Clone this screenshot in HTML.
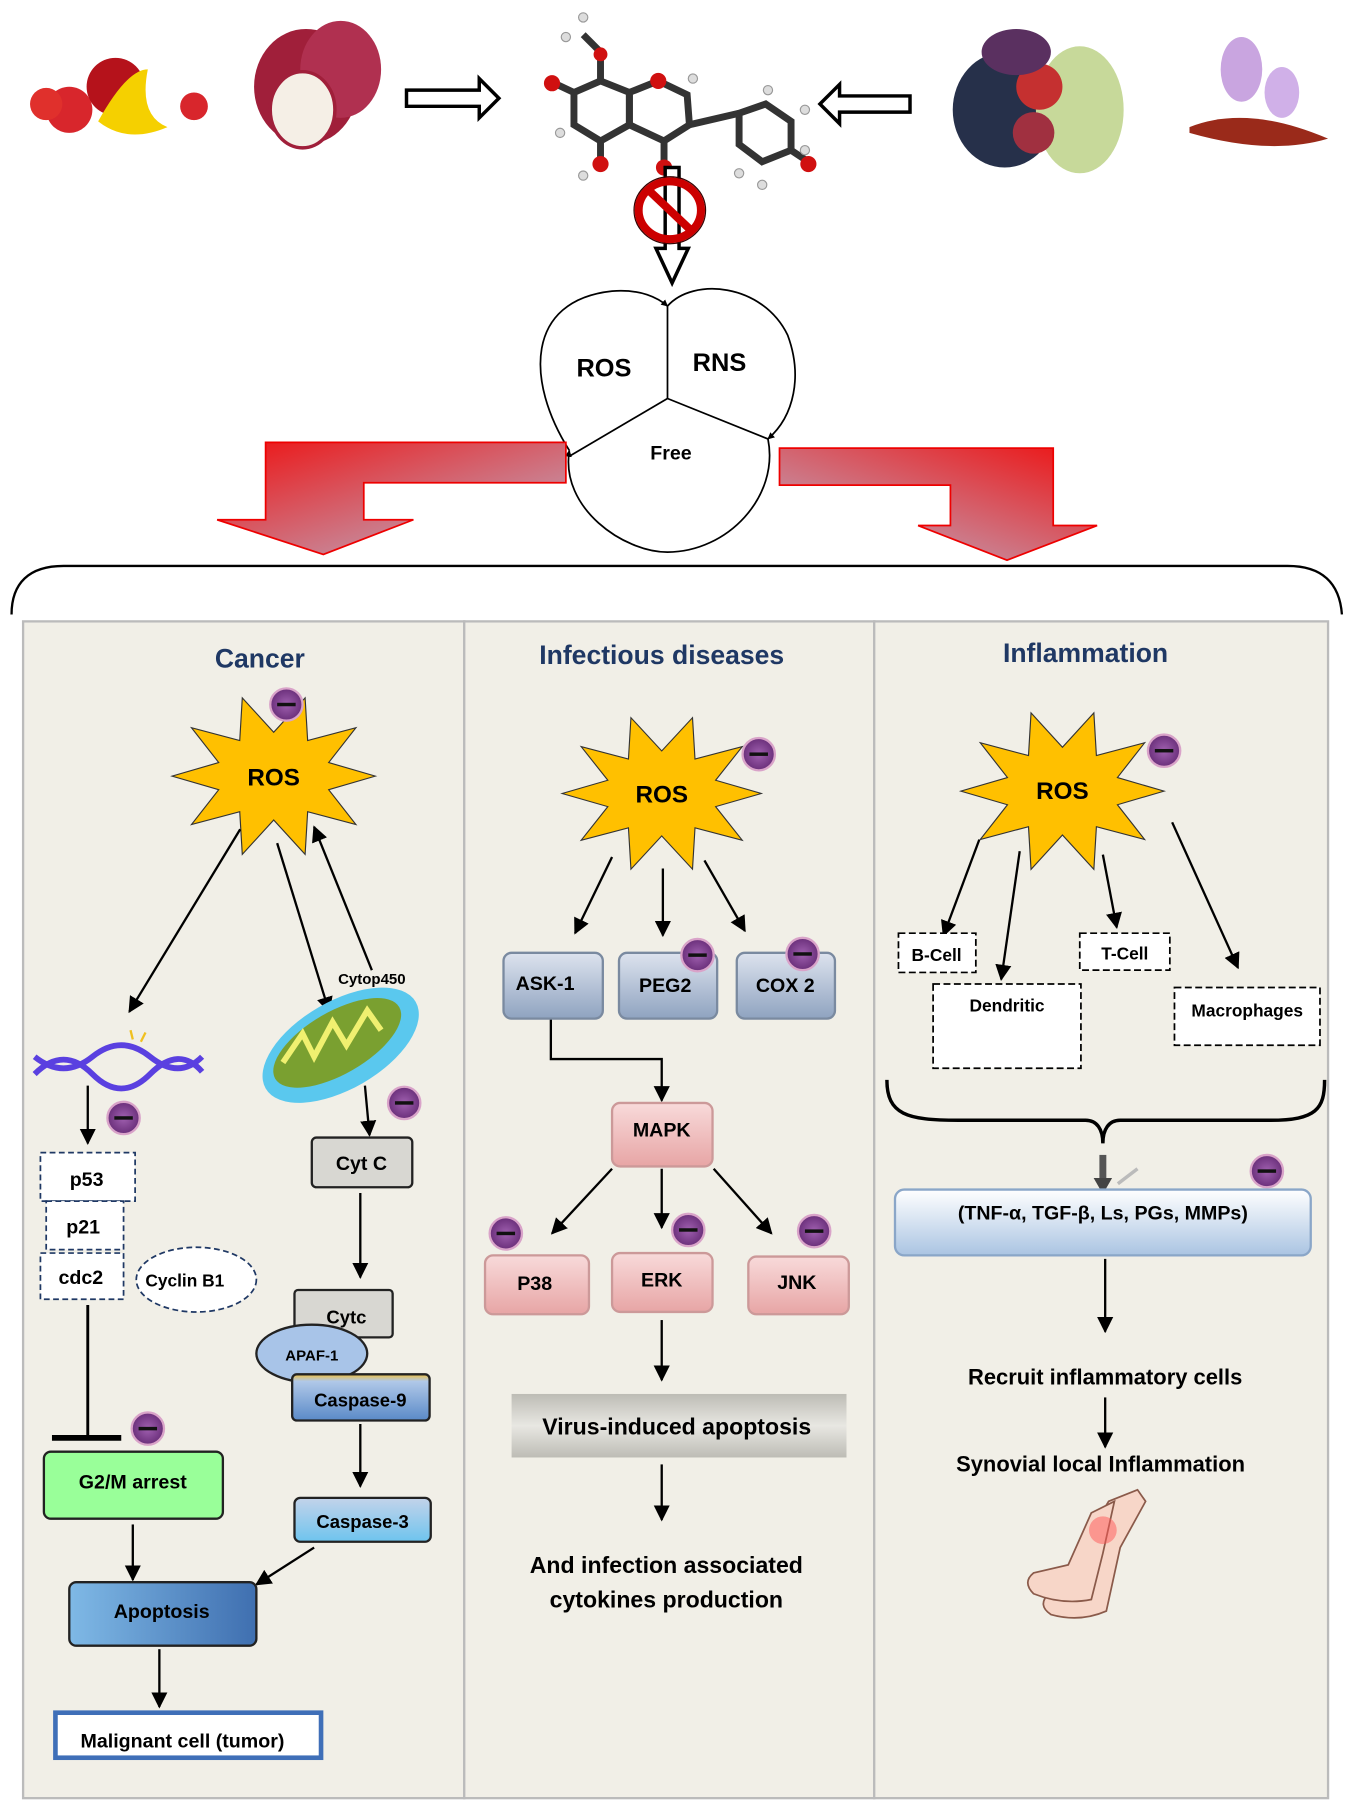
<!DOCTYPE html>
<html><head><meta charset="utf-8"><style>
html,body{margin:0;padding:0;background:#fff}
svg{display:block}
text{font-family:"Liberation Sans",sans-serif;font-weight:bold}
</style></head><body>
<svg width="1350" height="1804" viewBox="0 0 1169 1562" xmlns="http://www.w3.org/2000/svg">
<defs>
<marker id="ar" viewBox="0 0 10 10" refX="9" refY="5" markerWidth="7" markerHeight="7" orient="auto"><path d="M0,0 L10,5 L0,10 Z" fill="#000"/></marker>
<marker id="ars" viewBox="0 0 10 10" refX="9" refY="5" markerWidth="4" markerHeight="4" orient="auto"><path d="M0,0 L10,5 L0,10 Z" fill="#000"/></marker>
<linearGradient id="red" x1="0" y1="0" x2="1" y2="1"><stop offset="0" stop-color="#ee1111"/><stop offset="1" stop-color="#b8b8d0"/></linearGradient>
<linearGradient id="red2" x1="1" y1="0" x2="0" y2="1"><stop offset="0" stop-color="#ee1111"/><stop offset="1" stop-color="#b8b8d0"/></linearGradient>
<linearGradient id="gb" x1="0" y1="0" x2="0" y2="1"><stop offset="0" stop-color="#dde3ee"/><stop offset="1" stop-color="#8fa3c0"/></linearGradient>
<linearGradient id="pk" x1="0" y1="0" x2="0" y2="1"><stop offset="0" stop-color="#f8dada"/><stop offset="1" stop-color="#e7a5a5"/></linearGradient>
<linearGradient id="gr" x1="0" y1="0" x2="0" y2="1"><stop offset="0" stop-color="#bdbcb5"/><stop offset=".5" stop-color="#e8e7e2"/><stop offset="1" stop-color="#bdbcb5"/></linearGradient>
<linearGradient id="lb" x1="0" y1="0" x2="0" y2="1"><stop offset="0" stop-color="#ffffff"/><stop offset="1" stop-color="#aac4e2"/></linearGradient>
<linearGradient id="ap" x1="0" y1="0" x2="1" y2="0"><stop offset="0" stop-color="#7fb9e6"/><stop offset="1" stop-color="#3f6fb0"/></linearGradient>
<linearGradient id="c3" x1="0" y1="0" x2="0" y2="1"><stop offset="0" stop-color="#c3d3ea"/><stop offset="1" stop-color="#6ec4ee"/></linearGradient>
<linearGradient id="c9" x1="0" y1="0" x2="0" y2="1"><stop offset="0" stop-color="#f0c040"/><stop offset=".15" stop-color="#b0c8e8"/><stop offset="1" stop-color="#5a8ac8"/></linearGradient>
<radialGradient id="mb"><stop offset="0" stop-color="#a060b0"/><stop offset="1" stop-color="#6a2f7a"/></radialGradient>
<g id="minus"><circle r="14" fill="url(#mb)" stroke="#d9a3c9" stroke-width="2"/><rect x="-8" y="-1.5" width="16" height="3" fill="#111"/></g>
<polygon id="star" points="88,0 47.6,12.4 71.2,44.1 29.4,32.4 27.2,71.3 0,40 -27.2,71.3 -29.4,32.4 -71.2,44.1 -47.6,12.4 -88,0 -47.6,-12.4 -71.2,-44.1 -29.4,-32.4 -27.2,-71.3 0,-40 27.2,-71.3 29.4,-32.4 71.2,-44.1 47.6,-12.4" fill="#ffc000" stroke="#333" stroke-width="1"/>
</defs>

<g>
<circle cx="60" cy="95" r="20" fill="#d8262c"/><circle cx="100" cy="75" r="25" fill="#b5121b"/><path d="M85,105 Q110,60 128,60 Q120,100 145,110 Q110,125 85,105Z" fill="#f5d000"/><circle cx="40" cy="90" r="14" fill="#e0302c"/><circle cx="168" cy="92" r="12" fill="#d8262c"/>
<ellipse cx="265" cy="75" rx="45" ry="50" fill="#a01f3a"/><ellipse cx="295" cy="60" rx="35" ry="42" fill="#b03050"/><ellipse cx="262" cy="95" rx="28" ry="33" fill="#f5efe6" stroke="#a01f3a" stroke-width="3"/>
<path d="M352,78 H415 V68 L432,85 L415,102 V92 H352 Z" fill="#fff" stroke="#000" stroke-width="3"/>
<g stroke="#333" stroke-width="6" fill="none"><polygon points="520,70 545,80 545,108 520,122 497,108 497,80"/><polygon points="545,80 570,70 595,82 597,108 575,122 545,108"/><polygon points="640,98 663,90 685,105 685,130 660,140 640,125"/><line x1="597" y1="108" x2="640" y2="98"/><line x1="520" y1="70" x2="520" y2="45"/><line x1="520" y1="45" x2="505" y2="30"/><line x1="497" y1="80" x2="480" y2="72"/><line x1="520" y1="122" x2="520" y2="140"/><line x1="575" y1="122" x2="575" y2="140"/><line x1="685" y1="130" x2="700" y2="140"/></g>
<g fill="#d01010"><circle cx="520" cy="47" r="6"/><circle cx="570" cy="70" r="7"/><circle cx="478" cy="72" r="7"/><circle cx="520" cy="142" r="7"/><circle cx="575" cy="145" r="7"/><circle cx="700" cy="142" r="7"/></g>
<g fill="#ddd" stroke="#999"><circle cx="505" cy="15" r="4"/><circle cx="490" cy="32" r="4"/><circle cx="697" cy="130" r="4"/><circle cx="660" cy="160" r="4"/><circle cx="640" cy="150" r="4"/><circle cx="665" cy="78" r="4"/><circle cx="697" cy="95" r="4"/><circle cx="600" cy="68" r="4"/><circle cx="485" cy="115" r="4"/><circle cx="505" cy="152" r="4"/></g>
<path d="M788,83 H727 V73 L710,90 L727,107 V97 H788 Z" fill="#fff" stroke="#000" stroke-width="3"/>
<ellipse cx="870" cy="95" rx="45" ry="50" fill="#26304a"/><ellipse cx="935" cy="95" rx="38" ry="55" fill="#c7d99a"/><circle cx="900" cy="75" r="20" fill="#c53030"/><circle cx="895" cy="115" r="18" fill="#a03040"/><ellipse cx="880" cy="45" rx="30" ry="20" fill="#5a3060"/>
<path d="M1030,110 Q1080,90 1150,120 Q1100,135 1030,115Z" fill="#9a2a1a"/><ellipse cx="1075" cy="60" rx="18" ry="28" fill="#c9a5e0"/><ellipse cx="1110" cy="80" rx="15" ry="22" fill="#d0b0e8"/>
</g>
<path d="M576,145 H588 V215 H596 L582,245 L568,215 H576 Z" fill="#fff" stroke="#000" stroke-width="3"/>
<ellipse cx="580" cy="182" rx="27" ry="25" fill="none" stroke="#c00" stroke-width="7"/>
<line x1="562" y1="165" x2="598" y2="199" stroke="#c00" stroke-width="7"/>
<ellipse cx="580" cy="182" rx="31" ry="29" fill="none" stroke="#300" stroke-width="1"/>

<g fill="none" stroke="#000" stroke-width="1.5">
<path d="M493,390 C455,330 455,260 530,252 C555,250 570,258 578,265" marker-end="url(#ars)"/>
<path d="M578,265 C600,240 660,245 682,290 C695,325 688,360 665,380" marker-end="url(#ars)"/>
<path d="M665,380 C675,430 630,478 578,478 C540,478 485,440 493,390" marker-end="url(#ars)"/>
<line x1="578" y1="265" x2="578" y2="345"/><line x1="578" y1="345" x2="493" y2="395"/><line x1="578" y1="345" x2="665" y2="380"/>
</g>
<text x="523" y="326" font-size="22" text-anchor="middle">ROS</text>
<text x="623" y="321" font-size="22" text-anchor="middle">RNS</text>
<text x="581" y="398" font-size="17" text-anchor="middle">Free</text>

<path d="M490,383 H230 V450 H188 L280,480 L358,450 H315 V418 H490 Z" fill="url(#red)" stroke="#e00" stroke-width="1.5"/>
<path d="M675,388 H912 V455 H950 L872,485 L795,455 H823 V420 H675 Z" fill="url(#red2)" stroke="#e00" stroke-width="1.5"/>

<path d="M10,532 C10,505 25,490 55,490 H1115 C1145,490 1160,505 1162,532" fill="none" stroke="#000" stroke-width="2"/>

<rect x="20" y="538" width="382" height="1019" fill="#f1efe7" stroke="#bbb" stroke-width="2"/>
<rect x="402" y="538" width="355" height="1019" fill="#f1efe7" stroke="#bbb" stroke-width="2"/>
<rect x="757" y="538" width="393" height="1019" fill="#f1efe7" stroke="#bbb" stroke-width="2"/>

<g font-size="23" text-anchor="middle">
<text x="225" y="578" fill="#1f3864">Cancer</text>
<text x="573" y="575" fill="#1f3864">Infectious diseases</text>
<text x="940" y="573" fill="#1f3864">Inflammation</text>
</g>

<use href="#star" transform="translate(237,672) scale(1,0.95)"/>
<text x="237" y="680" font-size="21" text-anchor="middle">ROS</text>
<use href="#minus" x="248" y="610"/>
<g stroke="#000" stroke-width="2" fill="none" marker-end="url(#ar)">
<line x1="208" y1="718" x2="112" y2="876"/>
<line x1="240" y1="730" x2="285" y2="876"/>
<line x1="322" y1="840" x2="272" y2="716"/>
<line x1="76" y1="940" x2="76" y2="990"/>
<line x1="316" y1="940" x2="320" y2="983"/>
<line x1="312" y1="1033" x2="312" y2="1106"/>
<line x1="312" y1="1233" x2="312" y2="1287"/>
<line x1="272" y1="1340" x2="222" y2="1372"/>
<line x1="115" y1="1320" x2="115" y2="1368"/>
<line x1="138" y1="1428" x2="138" y2="1478"/>
</g>
<text x="322" y="852" font-size="13" text-anchor="middle" font-weight="normal">Cytop450</text>
<ellipse cx="295" cy="905" rx="75" ry="38" transform="rotate(-30 295 905)" fill="#5ac8ee"/>
<ellipse cx="292" cy="903" rx="62" ry="27" transform="rotate(-30 292 903)" fill="#7aa030"/>
<path d="M245,920 L262,895 L272,915 L288,885 L300,905 L318,875 L330,892" stroke="#f0f070" stroke-width="5" fill="none"/>
<path d="M30,915 Q55,935 80,915 T130,915 T175,915" stroke="#5a40e0" stroke-width="5" fill="none"/>
<path d="M30,930 Q55,905 80,930 T130,930 T175,928" stroke="#5a40e0" stroke-width="5" fill="none"/>
<g stroke="#f0c020" stroke-width="2"><line x1="115" y1="900" x2="113" y2="892"/><line x1="122" y1="902" x2="126" y2="894"/></g>
<use href="#minus" x="107" y="968"/>
<g fill="#fff" stroke="#1f3864" stroke-width="1.5" stroke-dasharray="5,3">
<rect x="35" y="998" width="82" height="42"/>
<rect x="40" y="1040" width="67" height="42"/>
<rect x="35" y="1085" width="72" height="40"/>
<ellipse cx="170" cy="1108" rx="52" ry="28"/>
</g>
<g font-size="17" text-anchor="middle"><text x="75" y="1027">p53</text><text x="72" y="1068">p21</text><text x="70" y="1112">cdc2</text></g>
<text x="160" y="1114" font-size="15" text-anchor="middle" font-weight="normal">Cyclin B1</text>
<rect x="270" y="985" width="87" height="43" rx="4" fill="#d8d7d2" stroke="#222" stroke-width="2"/>
<text x="313" y="1013" font-size="17" text-anchor="middle">Cyt C</text>
<use href="#minus" x="350" y="955"/>
<rect x="255" y="1117" width="85" height="41" rx="3" fill="#d8d7d2" stroke="#222" stroke-width="2"/>
<text x="300" y="1146" font-size="16" text-anchor="middle">Cytc</text>
<ellipse cx="270" cy="1172" rx="48" ry="25" fill="#a8c4e8" stroke="#222" stroke-width="2"/>
<text x="270" y="1178" font-size="13" text-anchor="middle" font-weight="normal">APAF-1</text>
<rect x="253" y="1190" width="119" height="40" rx="4" fill="url(#c9)" stroke="#222" stroke-width="2"/>
<text x="312" y="1218" font-size="16" text-anchor="middle">Caspase-9</text>
<rect x="255" y="1297" width="118" height="38" rx="5" fill="url(#c3)" stroke="#222" stroke-width="2"/>
<text x="314" y="1323" font-size="16" text-anchor="middle">Caspase-3</text>
<line x1="76" y1="1130" x2="76" y2="1245" stroke="#000" stroke-width="2.5"/>
<line x1="45" y1="1245" x2="105" y2="1245" stroke="#000" stroke-width="5"/>
<use href="#minus" x="128" y="1237"/>
<rect x="38" y="1257" width="155" height="58" rx="6" fill="#99ff99" stroke="#222" stroke-width="2"/>
<text x="115" y="1289" font-size="17" text-anchor="middle">G2/M arrest</text>
<rect x="60" y="1370" width="162" height="55" rx="6" fill="url(#ap)" stroke="#222" stroke-width="2"/>
<text x="140" y="1401" font-size="17" text-anchor="middle">Apoptosis</text>
<rect x="48" y="1483" width="230" height="39" fill="#fff" stroke="#3f6fb8" stroke-width="4"/>
<text x="158" y="1513" font-size="17" text-anchor="middle">Malignant cell (tumor)</text>

<use href="#star" transform="translate(573,687) scale(0.98,0.92)"/>
<text x="573" y="695" font-size="21" text-anchor="middle">ROS</text>
<use href="#minus" x="657" y="653"/>
<g stroke="#000" stroke-width="2" fill="none" marker-end="url(#ar)">
<line x1="530" y1="742" x2="498" y2="808"/>
<line x1="574" y1="752" x2="574" y2="810"/>
<line x1="610" y1="745" x2="645" y2="806"/>
<polyline points="477,882 477,917 573,917 573,953"/>
<line x1="530" y1="1012" x2="478" y2="1068"/>
<line x1="573" y1="1012" x2="573" y2="1063"/>
<line x1="618" y1="1012" x2="668" y2="1068"/>
<line x1="573" y1="1143" x2="573" y2="1195"/>
<line x1="573" y1="1268" x2="573" y2="1316"/>
</g>
<g stroke="#7a8aa0" stroke-width="2"><rect x="436" y="825" width="86" height="57" rx="7" fill="url(#gb)"/><rect x="536" y="825" width="85" height="57" rx="7" fill="url(#gb)"/><rect x="638" y="825" width="85" height="57" rx="7" fill="url(#gb)"/></g>
<g font-size="17" text-anchor="middle"><text x="472" y="857">ASK-1</text><text x="576" y="859">PEG2</text><text x="680" y="859">COX 2</text></g>
<use href="#minus" x="604" y="827"/><use href="#minus" x="695" y="826"/>
<g stroke="#c99" stroke-width="2"><rect x="530" y="955" width="87" height="55" rx="7" fill="url(#pk)"/><rect x="420" y="1087" width="90" height="51" rx="7" fill="url(#pk)"/><rect x="530" y="1085" width="87" height="51" rx="7" fill="url(#pk)"/><rect x="648" y="1088" width="87" height="50" rx="7" fill="url(#pk)"/></g>
<g font-size="17" text-anchor="middle"><text x="573" y="984">MAPK</text><text x="463" y="1117">P38</text><text x="573" y="1114">ERK</text><text x="690" y="1116">JNK</text></g>
<use href="#minus" x="438" y="1068"/><use href="#minus" x="596" y="1065"/><use href="#minus" x="705" y="1066"/>
<rect x="443" y="1207" width="290" height="55" fill="url(#gr)"/>
<text x="586" y="1242" font-size="20" text-anchor="middle">Virus-induced apoptosis</text>
<text x="577" y="1362" font-size="20" text-anchor="middle">And infection associated</text>
<text x="577" y="1392" font-size="20" text-anchor="middle">cytokines production</text>

<use href="#star" transform="translate(920,685) scale(1,0.95)"/>
<text x="920" y="692" font-size="21" text-anchor="middle">ROS</text>
<use href="#minus" x="1008" y="650"/>
<g stroke="#000" stroke-width="2" fill="none" marker-end="url(#ar)">
<line x1="848" y1="727" x2="817" y2="810"/>
<line x1="883" y1="737" x2="867" y2="848"/>
<line x1="955" y1="740" x2="967" y2="803"/>
<line x1="1015" y1="712" x2="1072" y2="838"/>
<line x1="957" y1="1090" x2="957" y2="1153"/>
<line x1="957" y1="1210" x2="957" y2="1253"/>
</g>
<g fill="#fff" stroke="#000" stroke-width="1.5" stroke-dasharray="6,3">
<rect x="778" y="808" width="67" height="34"/><rect x="935" y="808" width="78" height="32"/><rect x="808" y="852" width="128" height="73"/><rect x="1017" y="855" width="126" height="50"/>
</g>
<g font-size="15" text-anchor="middle" font-weight="normal"><text x="811" y="832">B-Cell</text><text x="974" y="831">T-Cell</text><text x="872" y="876">Dendritic</text><text x="1080" y="880">Macrophages</text></g>
<path d="M768,935 C768,965 785,970 830,970 H940 C950,970 955,978 955,990 C955,978 960,970 970,970 H1100 C1140,970 1147,960 1147,935" fill="none" stroke="#000" stroke-width="3"/>
<line x1="955" y1="1000" x2="955" y2="1024" stroke="#555" stroke-width="6"/>
<path d="M947,1020 L963,1020 L955,1034 Z" fill="#444"/>
<line x1="968" y1="1025" x2="985" y2="1012" stroke="#bbb" stroke-width="3"/>
<use href="#minus" x="1097" y="1014"/>
<rect x="775" y="1030" width="360" height="57" rx="8" fill="url(#lb)" stroke="#8aa6c8" stroke-width="2"/>
<text x="955" y="1056" font-size="17" text-anchor="middle">(TNF-α, TGF-β, Ls, PGs, MMPs)</text>
<text x="957" y="1199" font-size="19" text-anchor="middle">Recruit inflammatory cells</text>
<text x="953" y="1274" font-size="19" text-anchor="middle">Synovial local Inflammation</text>
<path d="M960,1300 L985,1290 L992,1300 L970,1340 L958,1395 Q935,1405 910,1398 Q898,1390 908,1380 L935,1370 L942,1330 Z" fill="#f7d6c8" stroke="#8a5a4a" stroke-width="1.5"/>
<path d="M945,1310 L965,1300 L955,1345 L945,1385 Q920,1390 895,1380 Q885,1370 895,1362 L925,1355 Z" fill="#f7d6c8" stroke="#8a5a4a" stroke-width="1.5"/>
<circle cx="955" cy="1325" r="12" fill="#f55" opacity="0.5"/>
</svg>
</body></html>
